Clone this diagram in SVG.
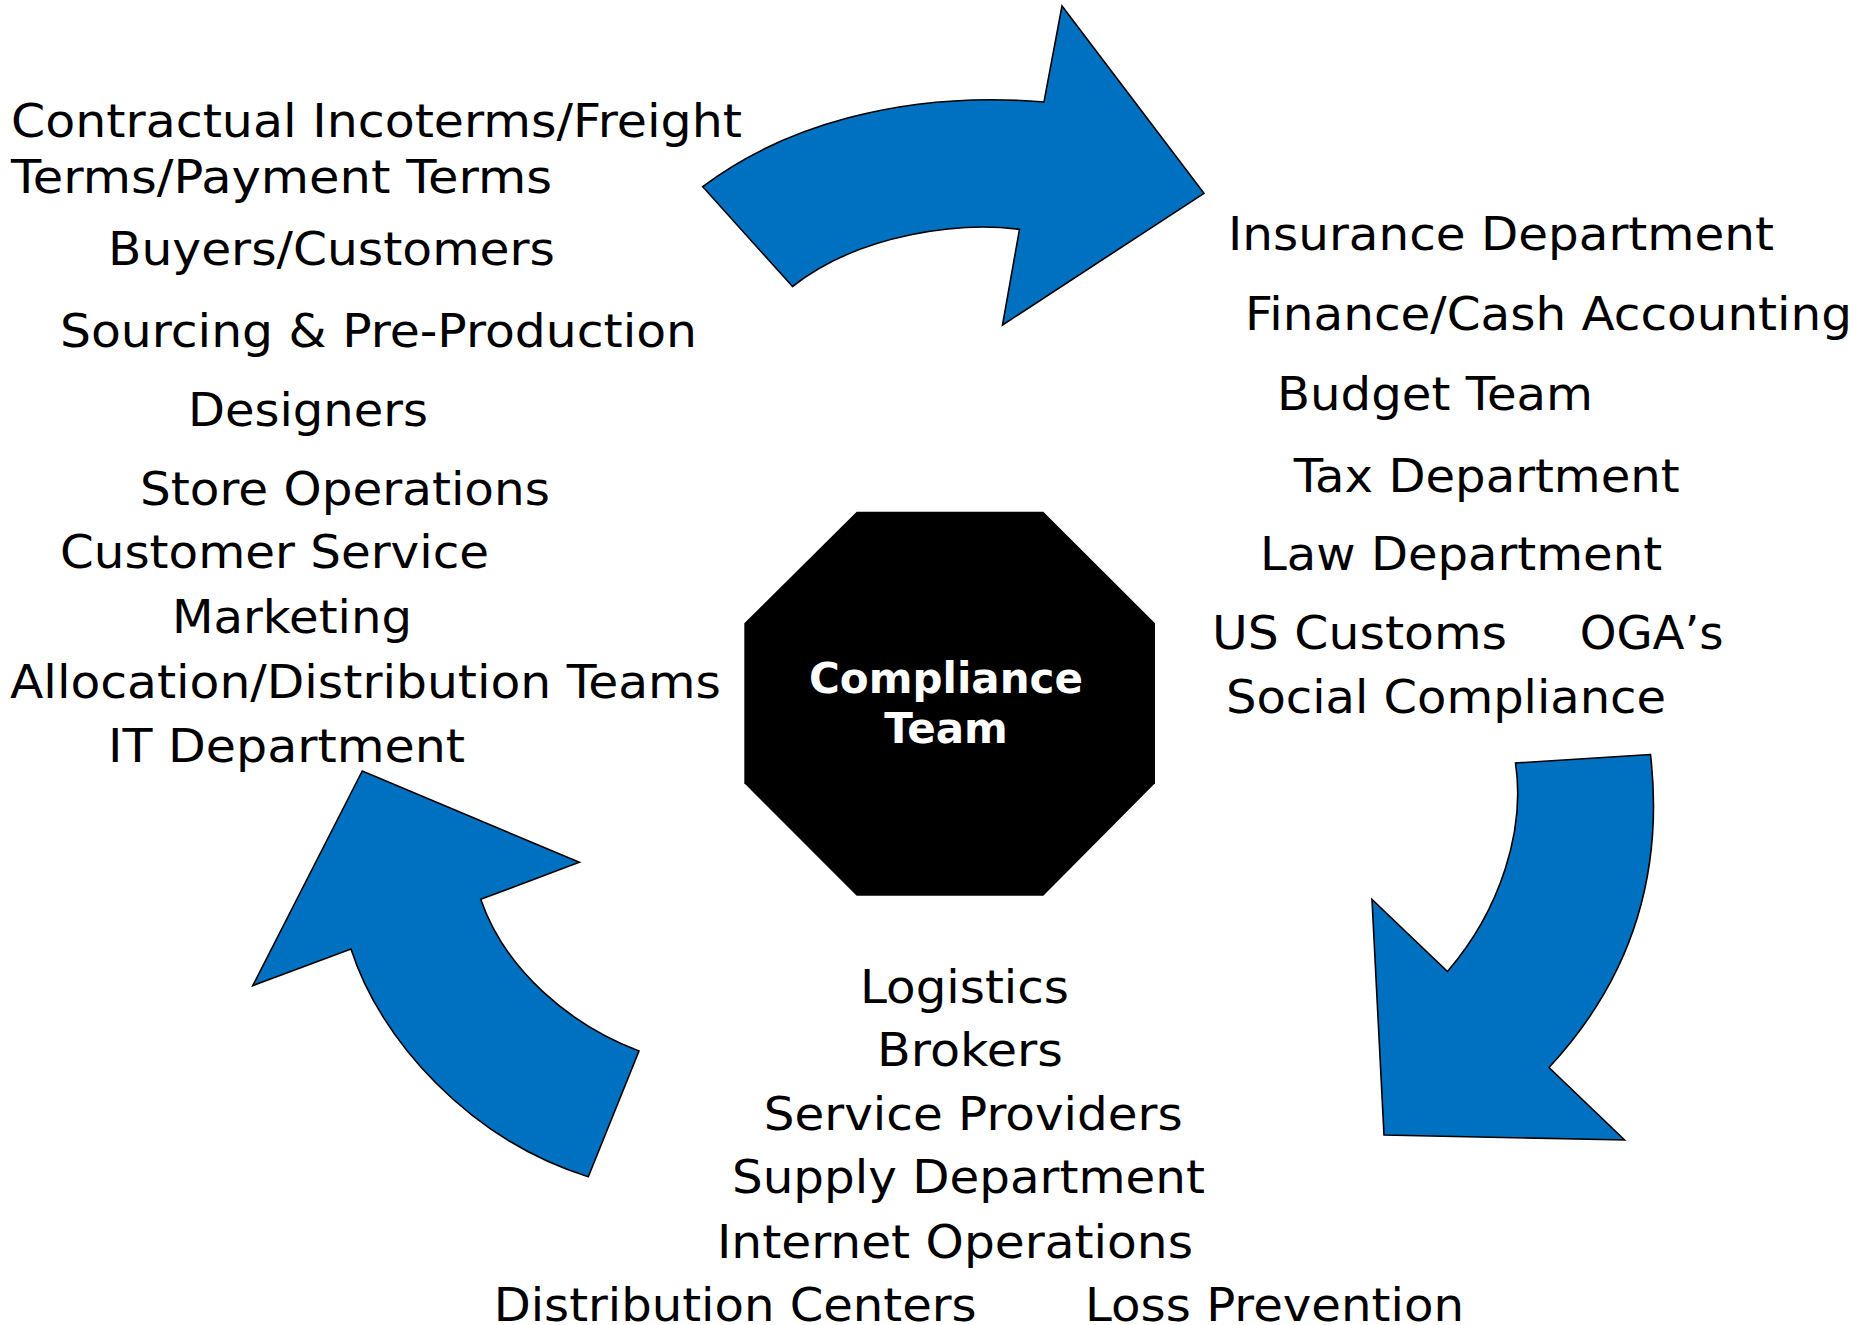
<svg xmlns="http://www.w3.org/2000/svg" width="1869" height="1325" viewBox="0 0 1869 1325">
<style>
.lbl{font-family:"DejaVu Sans","Verdana",sans-serif;font-size:46.5px;fill:#000}
.arrow{fill:#0070C0;stroke:#000;stroke-width:1.6;stroke-linejoin:miter}
.core{fill:#000}
.coreText{font-family:"DejaVu Sans","Verdana",sans-serif;font-weight:bold;font-size:42px;fill:#fff;text-anchor:middle}
</style>
<rect width="1869" height="1325" fill="#fff"/>
<g id="connectors">
<path class="arrow" d="M702.7,186.7 C780,128 900,90 1044,102 L1062,6 L1204,193.3 L1002.5,325 L1019.5,229.3 C963,222 862,232 792.5,286.5 Z"/>
<path class="arrow" d="M1650.5,754.5 L1515.5,763 C1525.5,830 1500.5,910 1447.5,971.5 L1372,899.5 L1384,1135 L1624.5,1140 L1549,1067.5 C1621,990 1666,890 1650.5,754.5 Z"/>
<path class="arrow" d="M588.3,1176.7 L639,1051 C570,1025 505,970 480.7,899.3 L579.3,862.3 L362.3,771 L252.7,985.7 L351,949 C380,1040 470,1140 588.3,1176.7 Z"/>
</g>
<g id="compliance-team">
<polygon class="core" points="856.7,511.7 1043.3,511.7 1155,623.3 1155,783.3 1043.3,895.7 856.7,895.7 744.3,783.3 744.3,623.3"/>
<text class="coreText" x="946" y="692.7">Compliance</text>
<text class="coreText" x="946" y="743.3">Team</text>
</g>
<g id="left-group">
<text class="lbl" x="11" y="137" textLength="731" lengthAdjust="spacingAndGlyphs">Contractual Incoterms/Freight</text>
<text class="lbl" x="11" y="193.3" textLength="541" lengthAdjust="spacingAndGlyphs">Terms/Payment Terms</text>
<text class="lbl" x="108" y="265" textLength="447" lengthAdjust="spacingAndGlyphs">Buyers/Customers</text>
<text class="lbl" x="60" y="346.7" textLength="637" lengthAdjust="spacingAndGlyphs">Sourcing &amp; Pre-Production</text>
<text class="lbl" x="188" y="426" textLength="240" lengthAdjust="spacingAndGlyphs">Designers</text>
<text class="lbl" x="140" y="505" textLength="410" lengthAdjust="spacingAndGlyphs">Store Operations</text>
<text class="lbl" x="60" y="568" textLength="429" lengthAdjust="spacingAndGlyphs">Customer Service</text>
<text class="lbl" x="172" y="633" textLength="240" lengthAdjust="spacingAndGlyphs">Marketing</text>
<text class="lbl" x="10" y="698" textLength="711" lengthAdjust="spacingAndGlyphs">Allocation/Distribution Teams</text>
<text class="lbl" x="108" y="761.7" textLength="357" lengthAdjust="spacingAndGlyphs">IT Department</text>
</g>
<g id="right-group">
<text class="lbl" x="1228" y="250" textLength="546" lengthAdjust="spacingAndGlyphs">Insurance Department</text>
<text class="lbl" x="1245" y="330" textLength="607" lengthAdjust="spacingAndGlyphs">Finance/Cash Accounting</text>
<text class="lbl" x="1277" y="410" textLength="316" lengthAdjust="spacingAndGlyphs">Budget Team</text>
<text class="lbl" x="1293.7" y="491.7" textLength="386" lengthAdjust="spacingAndGlyphs">Tax Department</text>
<text class="lbl" x="1260" y="570" textLength="402" lengthAdjust="spacingAndGlyphs">Law Department</text>
<text class="lbl" x="1212" y="649" textLength="295" lengthAdjust="spacingAndGlyphs">US Customs</text>
<text class="lbl" x="1579.7" y="649" textLength="144" lengthAdjust="spacingAndGlyphs">OGA’s</text>
<text class="lbl" x="1226" y="713.3" textLength="440" lengthAdjust="spacingAndGlyphs">Social Compliance</text>
</g>
<g id="bottom-group">
<text class="lbl" x="860" y="1002.7" textLength="209" lengthAdjust="spacingAndGlyphs">Logistics</text>
<text class="lbl" x="877" y="1066" textLength="186" lengthAdjust="spacingAndGlyphs">Brokers</text>
<text class="lbl" x="763.7" y="1130" textLength="419" lengthAdjust="spacingAndGlyphs">Service Providers</text>
<text class="lbl" x="732" y="1193" textLength="473" lengthAdjust="spacingAndGlyphs">Supply Department</text>
<text class="lbl" x="717" y="1257.7" textLength="476" lengthAdjust="spacingAndGlyphs">Internet Operations</text>
<text class="lbl" x="493.7" y="1321" textLength="483" lengthAdjust="spacingAndGlyphs">Distribution Centers</text>
<text class="lbl" x="1085" y="1321" textLength="379" lengthAdjust="spacingAndGlyphs">Loss Prevention</text>
</g>
</svg>
